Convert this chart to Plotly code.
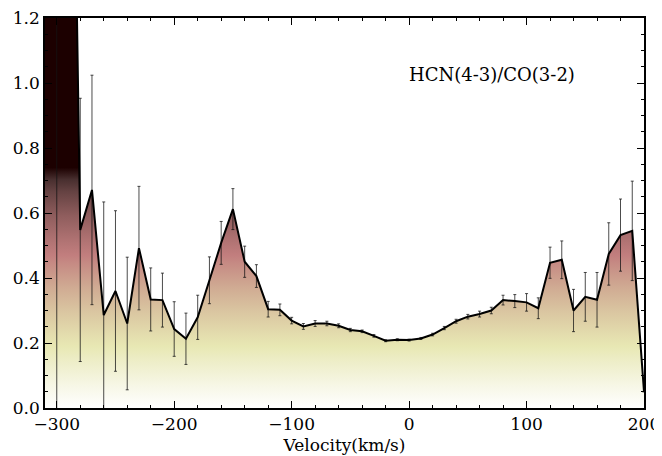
import plotly.graph_objects as go

velocity = [-310, -300, -290, -280, -270, -260, -250, -240, -230, -220, -210,
            -200, -190, -180, -170, -160, -150, -140, -130, -120, -110,
            -100, -90, -80, -70, -60, -50, -40, -30, -20, -10,
            0, 10, 20, 30, 40, 50, 60, 70, 80, 90,
            100, 110, 120, 130, 140, 150, 160, 170, 180, 190, 200]
ratio = [2.6, 2.6, 2.9, 0.548, 0.671, 0.286, 0.360, 0.260, 0.492, 0.334, 0.332,
         0.243, 0.213, 0.279, 0.393, 0.508, 0.612, 0.450, 0.406, 0.304, 0.302,
         0.269, 0.251, 0.260, 0.260, 0.253, 0.240, 0.236, 0.222, 0.207, 0.210,
         0.209, 0.214, 0.226, 0.246, 0.267, 0.281, 0.289, 0.300, 0.332, 0.329,
         0.325, 0.307, 0.447, 0.456, 0.300, 0.342, 0.333, 0.474, 0.532, 0.545, 0.050]
ratio_err = [0.0, 2.7, 1.0, 0.405, 0.353, 0.348, 0.247, 0.204, 0.190, 0.097, 0.083,
             0.084, 0.079, 0.068, 0.072, 0.066, 0.063, 0.048, 0.035, 0.024, 0.018,
             0.010, 0.009, 0.009, 0.007, 0.006, 0.005, 0.004, 0.004, 0.003, 0.003,
             0.003, 0.003, 0.004, 0.005, 0.006, 0.007, 0.009, 0.010, 0.015, 0.020,
             0.027, 0.032, 0.048, 0.058, 0.065, 0.075, 0.084, 0.096, 0.111, 0.153, 0.0]

x_ticks = [-300, -200, -100, 0, 100, 200]
y_ticks = [0.0, 0.2, 0.4, 0.6, 0.8, 1.0, 1.2]
label_text = "HCN(4-3)/CO(3-2)"

# reversed "pink" colour map, from y=0 (white) to y=0.74 (dark)
pink_r = [
    [0.00, "rgb(255,255,255)"],
    [0.10, "rgb(246,246,228)"],
    [0.20, "rgb(237,237,198)"],
    [0.254, "rgb(232,232,180)"],
    [0.30, "rgb(228,222,174)"],
    [0.40, "rgb(218,198,161)"],
    [0.50, "rgb(208,171,147)"],
    [0.60, "rgb(198,139,132)"],
    [0.635, "rgb(194,126,126)"],
    [0.70, "rgb(175,114,114)"],
    [0.80, "rgb(143,93,93)"],
    [0.90, "rgb(101,66,66)"],
    [0.95, "rgb(72,47,47)"],
    [1.00, "rgb(28,0,0)"],
]

FONT = "DejaVu Serif"
FS = 17

fig = go.Figure()
fig.add_trace(go.Scatter(
    x=velocity, y=ratio, mode="lines",
    fill="tozeroy",
    fillgradient=dict(type="vertical", colorscale=pink_r, start=0, stop=0.74),
    line=dict(color="black", width=2),
    error_y=dict(type="data", array=ratio_err, visible=True,
                 color="rgba(20,20,20,0.85)", thickness=0.9, width=1.5),
    showlegend=False,
))

fig.add_annotation(x=71, y=1.025, xref="x", yref="y", text=label_text,
                   showarrow=False, font=dict(family=FONT, size=18, color="black"))

axis_common = dict(
    showline=True, linecolor="black", linewidth=1.5, mirror="allticks",
    ticks="inside", ticklen=7, tickwidth=1.3, tickcolor="black",
    showgrid=False, zeroline=False, automargin=False,
    ticklabeloverflow="allow",
    tickfont=dict(family=FONT, size=FS, color="black"),
)

fig.update_xaxes(range=[-310, 200], tickvals=x_ticks,
                 minor=dict(dtick=20, tick0=0, ticks="inside", ticklen=3.5,
                            tickwidth=1, tickcolor="black"),
                 title=dict(text="Velocity(km/s)", font=dict(family=FONT, size=FS, color="black"),
                            standoff=6),
                 **axis_common)
fig.update_yaxes(range=[0, 1.2], tickvals=y_ticks, tickformat=".1f",
                 minor=dict(dtick=0.05, tick0=0, ticks="inside", ticklen=3.5,
                            tickwidth=1, tickcolor="black"),
                 **axis_common)

fig.update_layout(
    width=662, height=456,
    margin=dict(l=37, r=26, t=10, b=56),
    plot_bgcolor="white", paper_bgcolor="white",
)

fig.write_html("out.html")
